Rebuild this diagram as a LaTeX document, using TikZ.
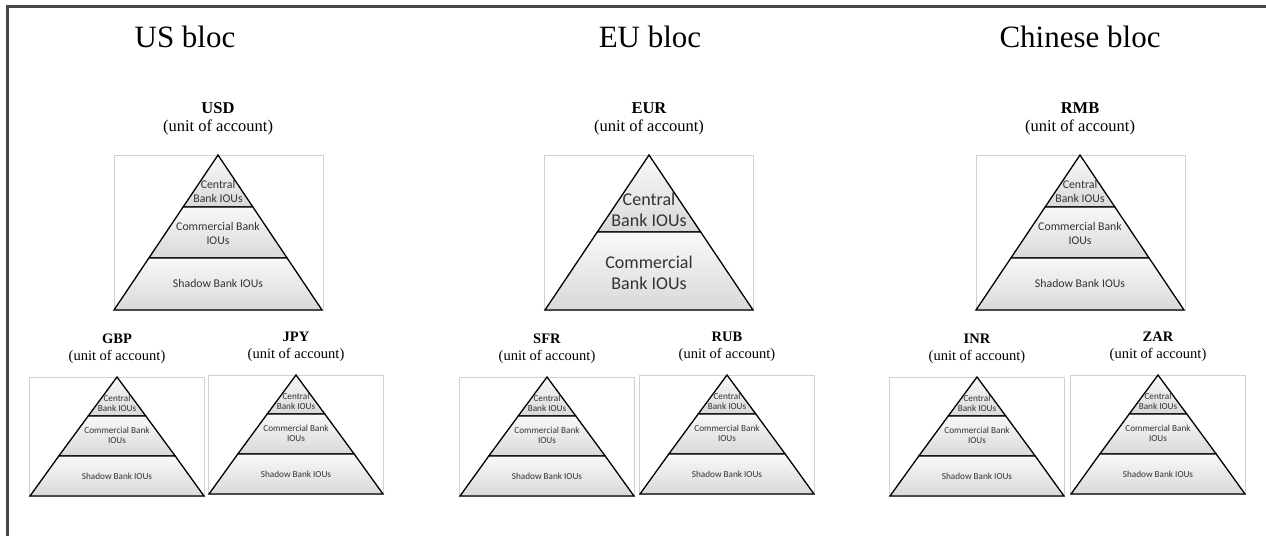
\documentclass[tikz,border=0pt]{standalone}
\usepackage{fontspec}
\setmainfont{Liberation Serif}
\newfontfamily\ioufont{Carlito}
\usetikzlibrary{positioning,calc}

\begin{document}
\begin{tikzpicture}[
  x=1pt, y=-1pt,
  frameline/.style={draw=black!72, line width=2.2pt},
  bloctitle/.style={font=\fontsize{31}{31}\selectfont, inner sep=0pt},
  unitlabel/.style={align=center, inner sep=0pt, font=\fontsize{14.5}{17}\selectfont},
  bigunit/.style={unitlabel, font=\fontsize{16.5}{18}\selectfont},
  panel/.style={draw=black!18, line width=0.6pt},
  layer/.style={draw=black, line width=1.3pt, top color=gray!5, bottom color=gray!30},
  iou/.style={align=center, inner sep=0pt, text=black!80, font=\ioufont\fontsize{9.2}{10.5}\selectfont},
  bigiou/.style={iou, font=\ioufont\fontsize{11.8}{14}\selectfont},
  hugeiou/.style={iou, font=\ioufont\fontsize{18}{21.5}\selectfont}
]
\useasboundingbox (0,0) rectangle (1266,536);

% Frame
\draw[frameline] (7.5,536) -- (7.5,6.5) -- (1266,6.5);

% Bloc titles
\node[bloctitle] (us) at (185,37) {US bloc};
\node[bloctitle] (eu) at (650,37) {EU bloc};
\node[bloctitle] (cn) at (1080,37) {Chinese bloc};

% Anchor currencies
\node[bigunit] (usd) at (218,119) {\textbf{USD}\\(unit of account)};
\node[bigunit] (eur) at (649,119) {\textbf{EUR}\\(unit of account)};
\node[bigunit] (rmb) at (1080,119) {\textbf{RMB}\\(unit of account)};

% Three-layer pyramids (US and Chinese)
\foreach \cur/\ax in {usd/218, rmb/1080}{
  \begin{scope}[shift={(\ax,155)}]
    \draw[panel] (-104,0) rectangle (105,155);
    \draw[layer] (0,0) -- (34.9,52) -- (-34.9,52) -- cycle;
    \draw[layer] (-34.9,52) -- (34.9,52) -- (69.1,103) -- (-69.1,103) -- cycle;
    \draw[layer] (-69.1,103) -- (69.1,103) -- (104,155) -- (-104,155) -- cycle;
    \node[bigiou] (\cur-cb) at (0,36) {Central\\Bank IOUs};
    \node[bigiou] (\cur-com) at (0,78) {Commercial Bank\\IOUs};
    \node[bigiou] (\cur-sh) at (0,128) {Shadow Bank IOUs};
  \end{scope}
}

% Two-layer pyramid (EU)
\begin{scope}[shift={(649,155)}]
  \draw[panel] (-105,0) rectangle (104,155);
  \draw[layer] (0,0) -- (51.7,77) -- (-51.7,77) -- cycle;
  \draw[layer] (-51.7,77) -- (51.7,77) -- (104,155) -- (-104,155) -- cycle;
  \node[hugeiou] (eur-cb) at (0,55) {Central\\Bank IOUs};
  \node[hugeiou] (eur-com) at (0,118) {Commercial\\Bank IOUs};
\end{scope}

% Satellite currencies
\foreach \cur/\lbl/\ax/\ay in {gbp/GBP/117/377, jpy/JPY/296/375, sfr/SFR/547/377, rub/RUB/727/375, inr/INR/977/377, zar/ZAR/1158/375}{
  \node[unitlabel] (\cur) at (\ax,\ay-28.5) {\textbf{\lbl}\\(unit of account)};
  \begin{scope}[shift={(\ax,\ay)}]
    \draw[panel] (-88,0) rectangle (87,119);
    \draw[layer] (0,0) -- (28.8,39) -- (-28.8,39) -- cycle;
    \draw[layer] (-28.8,39) -- (28.8,39) -- (58.2,79) -- (-58.2,79) -- cycle;
    \draw[layer] (-58.2,79) -- (58.2,79) -- (87,119) -- (-87,119) -- cycle;
    \node[iou] (\cur-cb) at (0,26.5) {Central\\Bank IOUs};
    \node[iou] (\cur-com) at (0,58.5) {Commercial Bank\\IOUs};
    \node[iou] (\cur-sh) at (0,99.5) {Shadow Bank IOUs};
  \end{scope}
}

\end{tikzpicture}
\end{document}
